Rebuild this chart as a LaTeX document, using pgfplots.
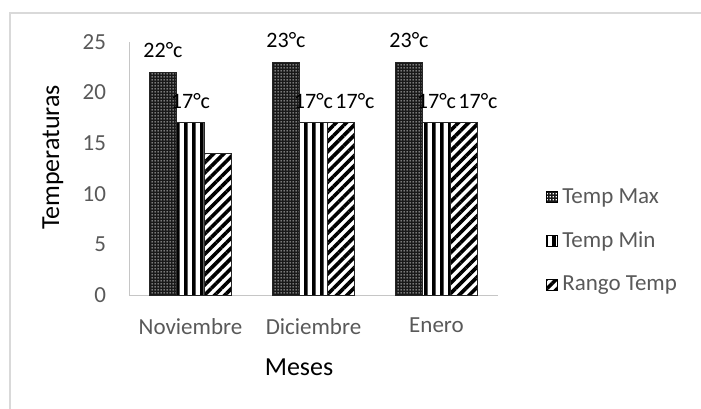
\documentclass[border=0pt]{standalone}
\usepackage{pgfplots}
\pgfplotsset{compat=1.18}
\usepackage{fontspec}
\setmainfont{Carlito}
\usetikzlibrary{patterns,patterns.meta}
\pgfdeclarepatternformonly{whitedots}{\pgfqpoint{0pt}{0pt}}{\pgfqpoint{1.4pt}{1.4pt}}{\pgfqpoint{1.4pt}{1.4pt}}{%
 \pgfpathrectangle{\pgfqpoint{0.3pt}{0.3pt}}{\pgfqpoint{0.6pt}{0.6pt}}%
 \pgfusepath{fill}}
\pgfdeclarepatternformonly{vstripes}{\pgfqpoint{0pt}{0pt}}{\pgfqpoint{4pt}{200pt}}{\pgfqpoint{4pt}{200pt}}{%
 \pgfpathrectangle{\pgfqpoint{0pt}{0pt}}{\pgfqpoint{2pt}{200pt}}%
 \pgfusepath{fill}}
\definecolor{tickgray}{HTML}{595959}
\definecolor{framegray}{HTML}{D9D9D9}
\pgfplotsset{mylegend/.style={legend image code/.code={\draw[##1, draw=black] (0pt,-2.7pt) rectangle (5.4pt,2.7pt);}}}
\begin{document}
\begin{tikzpicture}
\useasboundingbox (0,0) rectangle (350.5pt,204pt);
\draw[framegray, line width=0.75pt] (5pt,-10pt) rectangle (360pt,197.5pt);
\begin{axis}[
  at={(64.5pt,56.5pt)}, anchor=south west,
  scale only axis, width=184.5pt, height=126.5pt,
  xmin=-0.5, xmax=2.5, ymin=0, ymax=25,
  ybar=0pt, bar width=13.75pt,
  axis x line*=bottom, axis y line*=left,
  axis line style={draw=gray!45, -},
  major tick length=0pt,
  xtick={0,1,2}, xticklabels={Noviembre,Diciembre,Enero},
  ytick={0,5,10,15,20,25},
  tick label style={font=\fontsize{11.5}{13}\selectfont, text=tickgray},
  /pgf/number format/assume math mode=true,
  xticklabel style={yshift=-8pt},
  yticklabel style={xshift=-8pt},
  clip=false,
  point meta=explicit symbolic,
  nodes near coords,
  every node near coord/.append style={font=\fontsize{11}{13}\selectfont, text=black, anchor=center, yshift=11pt},
  legend style={at={(1.114,0.213)}, anchor=west, draw=none, fill=none,
    font=\fontsize{11.5}{13}\selectfont, text=tickgray, row sep=8.75pt,
    nodes={inner xsep=2pt},
    /tikz/every even column/.append style={column sep=0pt}},
  legend cell align=left,
]
\addplot[draw=black!85, line width=0.5pt, fill=black!90, postaction={pattern=whitedots, pattern color=white}, mylegend]
  coordinates {(0,22) [22°c] (1,23) [23°c] (2,23) [23°c]};
\addplot[draw=black!85, line width=0.5pt, pattern=vstripes, mylegend]
  coordinates {(0,17) [17°c] (1,17) [17°c] (2,17) [17°c]};
\addplot[draw=black!85, line width=0.5pt, pattern={Lines[angle=45,distance=3.6pt,line width=1.8pt]}, mylegend,
  every node near coord/.append style={xshift=7pt}]
  coordinates {(0,14) [{}] (1,17) [17°c] (2,17) [17°c]};
\legend{Temp Max, Temp Min, Rango Temp}
\end{axis}
\node[font=\fontsize{13}{15}\selectfont, rotate=90] at (26.5pt,125.25pt) {Temperaturas};
\node[font=\fontsize{13}{15}\selectfont] at (149.5pt,20.5pt) {Meses};
\end{tikzpicture}
\end{document}
